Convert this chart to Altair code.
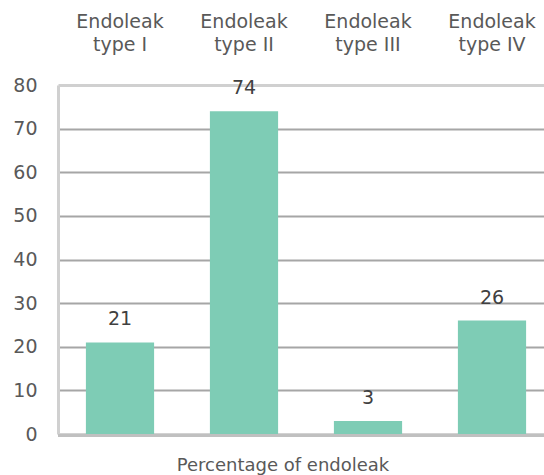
import altair as alt
import pandas as pd

categories = ["Endoleak type I", "Endoleak type II", "Endoleak type III", "Endoleak type IV"]
percentages = [21, 74, 3, 26]

df = pd.DataFrame({"type": categories, "pct": percentages})

FONT = "DejaVu Sans"
SIZE = 19
BAR = "#7ECCB5"
AXIS_TEXT = "#595959"

x_enc = alt.X(
    "type:N",
    sort=categories,
    scale=alt.Scale(range=[0, 496], paddingInner=0.45, paddingOuter=0.225),
    axis=alt.Axis(
        orient="top",
        title=None,
        domain=False,
        ticks=False,
        labelAngle=0,
        labelFont=FONT,
        labelFontSize=SIZE,
        labelColor=AXIS_TEXT,
        labelLineHeight=23,
        labelPadding=54,
        labelExpr="[substring(datum.value, 0, 8), substring(datum.value, 9)]",
    ),
)

y_enc = alt.Y(
    "pct:Q",
    scale=alt.Scale(domain=[0, 80], nice=False),
    axis=alt.Axis(
        title=None,
        values=[0, 10, 20, 30, 40, 50, 60, 70, 80],
        ticks=False,
        domainColor="#d0d0d0",
        domainWidth=3,
        gridColor=alt.condition("datum.value < 80", alt.value("#a6a6a6"), alt.value("#d0d0d0")),
        gridWidth=alt.condition("datum.value < 80", alt.value(2), alt.value(3)),
        labelFont=FONT,
        labelFontSize=SIZE,
        labelColor=AXIS_TEXT,
        labelPadding=21,
    ),
)

base = alt.Chart(df).encode(x=x_enc, y=y_enc)

bars = base.mark_bar(color=BAR)

labels = base.mark_text(
    font=FONT, fontSize=SIZE, color="#404040", baseline="alphabetic", dy=-17
).encode(text="pct:Q")

baseline_rule = alt.Chart(df).mark_rule(color="#c0c0c0", strokeWidth=3, yOffset=1.5).encode(
    y=alt.datum(0)
)

chart = (
    alt.layer(bars, baseline_rule, labels)
    .properties(
        width=486,
        height=349,
        padding={"left": 58, "top": 85, "right": 0, "bottom": 41},
        autosize=alt.AutoSizeParams(type="none"),
        title=alt.TitleParams(
            "Percentage of endoleak",
            orient="bottom",
            anchor="middle",
            frame="group",
            dx=-18,
            offset=13,
            font=FONT,
            fontSize=18,
            fontWeight="normal",
            color=AXIS_TEXT,
        ),
    )
    .configure_view(stroke=None)
)

chart.save("out.html", embed_options={"renderer": "svg", "actions": False})
